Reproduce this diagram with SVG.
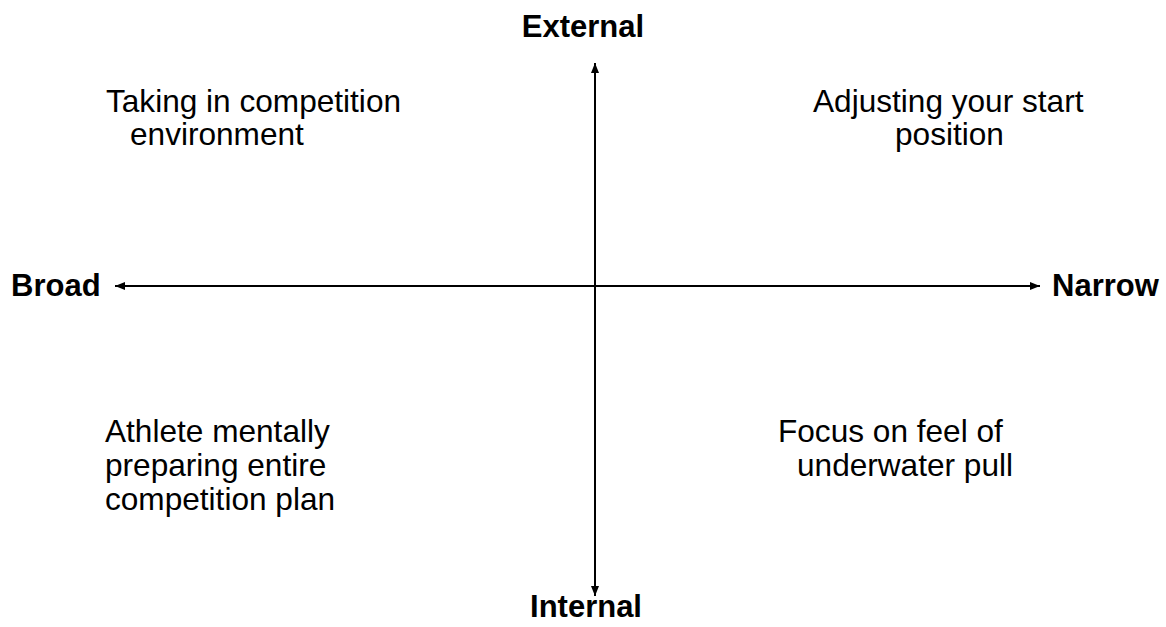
<svg xmlns="http://www.w3.org/2000/svg" width="1166" height="627" viewBox="0 0 1166 627">
<style>
.t{font-family:"Liberation Sans",Arial,sans-serif;font-size:31.6px;fill:#000}
.b{font-weight:bold;font-size:31px}
.ax{stroke:#000;stroke-width:2;fill:none}
</style>
<defs>
<marker id="ah" viewBox="0 0 10 8" refX="10" refY="4" markerWidth="10" markerHeight="8" markerUnits="userSpaceOnUse" orient="auto-start-reverse">
<path d="M0,0 L10,4 L0,8 Z" fill="#000"/>
</marker>
</defs>
<rect width="1166" height="627" fill="#fff"/>
<g id="connectors">
<line class="ax" x1="595" y1="596" x2="595" y2="63" marker-start="url(#ah)" marker-end="url(#ah)"/>
<line class="ax" x1="115" y1="286" x2="1040" y2="286" marker-start="url(#ah)" marker-end="url(#ah)"/>
</g>
<g id="external"><text class="t b" x="583" y="37" text-anchor="middle">External</text></g>
<g id="internal"><text class="t b" x="586" y="617" text-anchor="middle">Internal</text></g>
<g id="broad"><text class="t b" x="11" y="296">Broad</text></g>
<g id="narrow"><text class="t b" x="1052" y="296">Narrow</text></g>
<g id="q-top-left"><text class="t" x="106" y="112">Taking in competition</text><text class="t" x="130" y="145">environment</text></g>
<g id="q-top-right"><text class="t" x="813" y="112">Adjusting your start</text><text class="t" x="895" y="145">position</text></g>
<g id="q-bottom-left"><text class="t" x="105" y="442">Athlete mentally</text><text class="t" x="105" y="476">preparing entire</text><text class="t" x="105" y="510">competition plan</text></g>
<g id="q-bottom-right"><text class="t" x="778" y="442">Focus on feel of</text><text class="t" x="797" y="476">underwater pull</text></g>
</svg>
